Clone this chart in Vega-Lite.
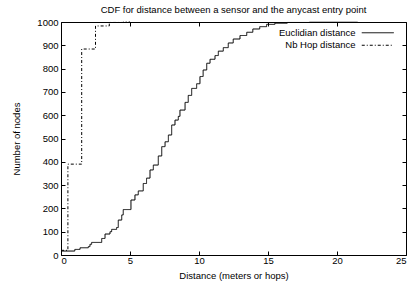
{
  "$schema": "https://vega.github.io/schema/vega-lite/v6.json",
  "width": 345,
  "height": 233,
  "autosize": {"type": "none"},
  "padding": {"left": 61, "top": 22, "right": 5, "bottom": 36},
  "title": {"text": "CDF for distance between a sensor and the anycast entry point", "fontSize": 9.5, "fontWeight": "normal", "font": "Liberation Sans", "color": "black", "anchor": "middle", "offset": 3},
  "config": {
    "view": {"stroke": "black", "strokeWidth": 1},
    "font": "Liberation Sans",
    "axis": {"grid": false, "domain": false, "tickColor": "black", "tickSize": -4, "labelColor": "black", "labelFontSize": 9.5, "labelFont": "Liberation Sans", "titleFont": "Liberation Sans", "titleFontSize": 9.5, "titleFontWeight": "normal", "titleColor": "black"}
  },
  "datasets": {
    "curves": [
      {"series": "Euclidian distance", "x": 0, "y": 17},
      {"series": "Euclidian distance", "x": 1.0, "y": 24},
      {"series": "Euclidian distance", "x": 1.38, "y": 31},
      {"series": "Euclidian distance", "x": 1.98, "y": 36},
      {"series": "Euclidian distance", "x": 2.1, "y": 46},
      {"series": "Euclidian distance", "x": 2.22, "y": 54},
      {"series": "Euclidian distance", "x": 2.95, "y": 71},
      {"series": "Euclidian distance", "x": 3.19, "y": 90},
      {"series": "Euclidian distance", "x": 3.55, "y": 100},
      {"series": "Euclidian distance", "x": 3.67, "y": 110},
      {"series": "Euclidian distance", "x": 4.03, "y": 118},
      {"series": "Euclidian distance", "x": 4.15, "y": 150},
      {"series": "Euclidian distance", "x": 4.4, "y": 172},
      {"series": "Euclidian distance", "x": 4.51, "y": 195},
      {"series": "Euclidian distance", "x": 5.07, "y": 236},
      {"series": "Euclidian distance", "x": 5.36, "y": 258},
      {"series": "Euclidian distance", "x": 5.6, "y": 275},
      {"series": "Euclidian distance", "x": 5.96, "y": 307},
      {"series": "Euclidian distance", "x": 6.2, "y": 330},
      {"series": "Euclidian distance", "x": 6.45, "y": 365},
      {"series": "Euclidian distance", "x": 6.69, "y": 386},
      {"series": "Euclidian distance", "x": 7.05, "y": 425},
      {"series": "Euclidian distance", "x": 7.3, "y": 465},
      {"series": "Euclidian distance", "x": 7.54, "y": 486},
      {"series": "Euclidian distance", "x": 7.78, "y": 515},
      {"series": "Euclidian distance", "x": 8.02, "y": 558},
      {"series": "Euclidian distance", "x": 8.26, "y": 579},
      {"series": "Euclidian distance", "x": 8.5, "y": 595},
      {"series": "Euclidian distance", "x": 8.62, "y": 622},
      {"series": "Euclidian distance", "x": 8.99, "y": 655},
      {"series": "Euclidian distance", "x": 9.22, "y": 685},
      {"series": "Euclidian distance", "x": 9.47, "y": 715},
      {"series": "Euclidian distance", "x": 9.83, "y": 735},
      {"series": "Euclidian distance", "x": 10.07, "y": 766},
      {"series": "Euclidian distance", "x": 10.3, "y": 794},
      {"series": "Euclidian distance", "x": 10.56, "y": 823},
      {"series": "Euclidian distance", "x": 10.8, "y": 840},
      {"series": "Euclidian distance", "x": 11.16, "y": 856},
      {"series": "Euclidian distance", "x": 11.4, "y": 875},
      {"series": "Euclidian distance", "x": 11.76, "y": 890},
      {"series": "Euclidian distance", "x": 12.12, "y": 910},
      {"series": "Euclidian distance", "x": 12.48, "y": 927},
      {"series": "Euclidian distance", "x": 12.97, "y": 942},
      {"series": "Euclidian distance", "x": 13.46, "y": 956},
      {"series": "Euclidian distance", "x": 13.9, "y": 970},
      {"series": "Euclidian distance", "x": 14.4, "y": 980},
      {"series": "Euclidian distance", "x": 14.9, "y": 990},
      {"series": "Euclidian distance", "x": 15.5, "y": 995},
      {"series": "Euclidian distance", "x": 16.4, "y": 998},
      {"series": "Euclidian distance", "x": 18, "y": 999},
      {"series": "Euclidian distance", "x": 21.5, "y": 1000},
      {"series": "Nb Hop distance", "x": 0, "y": 20},
      {"series": "Nb Hop distance", "x": 0.5, "y": 390},
      {"series": "Nb Hop distance", "x": 1.5, "y": 884},
      {"series": "Nb Hop distance", "x": 2.5, "y": 983},
      {"series": "Nb Hop distance", "x": 3.5, "y": 998},
      {"series": "Nb Hop distance", "x": 4.5, "y": 1000},
      {"series": "Nb Hop distance", "x": 5, "y": 1000}
    ]
  },
  "data": {"name": "curves"},
  "layer": [
    {
      "mark": {"type": "line", "interpolate": "step-after", "color": "black", "strokeWidth": 1},
      "encoding": {
        "x": {"field": "x", "type": "quantitative", "scale": {"domain": [0, 25], "nice": false}, "axis": {"values": [0, 5, 10, 15, 20, 25], "title": "Distance (meters or hops)", "labelPadding": 4, "titlePadding": 6}},
        "y": {"field": "y", "type": "quantitative", "scale": {"domain": [0, 1000], "nice": false}, "axis": {"values": [0, 100, 200, 300, 400, 500, 600, 700, 800, 900, 1000], "format": "d", "title": "Number of nodes", "labelPadding": 7, "titlePadding": 15}},
        "strokeDash": {"field": "series", "type": "nominal", "sort": ["Euclidian distance", "Nb Hop distance"], "scale": {"domain": ["Euclidian distance", "Nb Hop distance"], "range": [[1, 0], [3, 2, 1, 2]]},
          "legend": {"orient": "none", "legendX": 312, "legendY": 6, "title": null, "padding": 0, "symbolType": "M-16,0H16", "symbolSize": 4, "symbolStrokeColor": "black", "symbolStrokeWidth": 1, "labelAlign": "right", "labelOffset": -27, "labelFontSize": 9.5, "labelColor": "black", "rowPadding": 1.5}}
      }
    },
    {
      "mark": {"type": "line", "opacity": 0},
      "encoding": {
        "x": {"field": "x", "type": "quantitative", "axis": {"orient": "top", "values": [0, 5, 10, 15, 20, 25], "labels": false, "title": null}},
        "y": {"field": "y", "type": "quantitative", "axis": {"orient": "right", "values": [0, 100, 200, 300, 400, 500, 600, 700, 800, 900, 1000], "labels": false, "title": null}},
        "detail": {"field": "series"}
      }
    }
  ],
  "resolve": {"axis": {"x": "independent", "y": "independent"}}
}
